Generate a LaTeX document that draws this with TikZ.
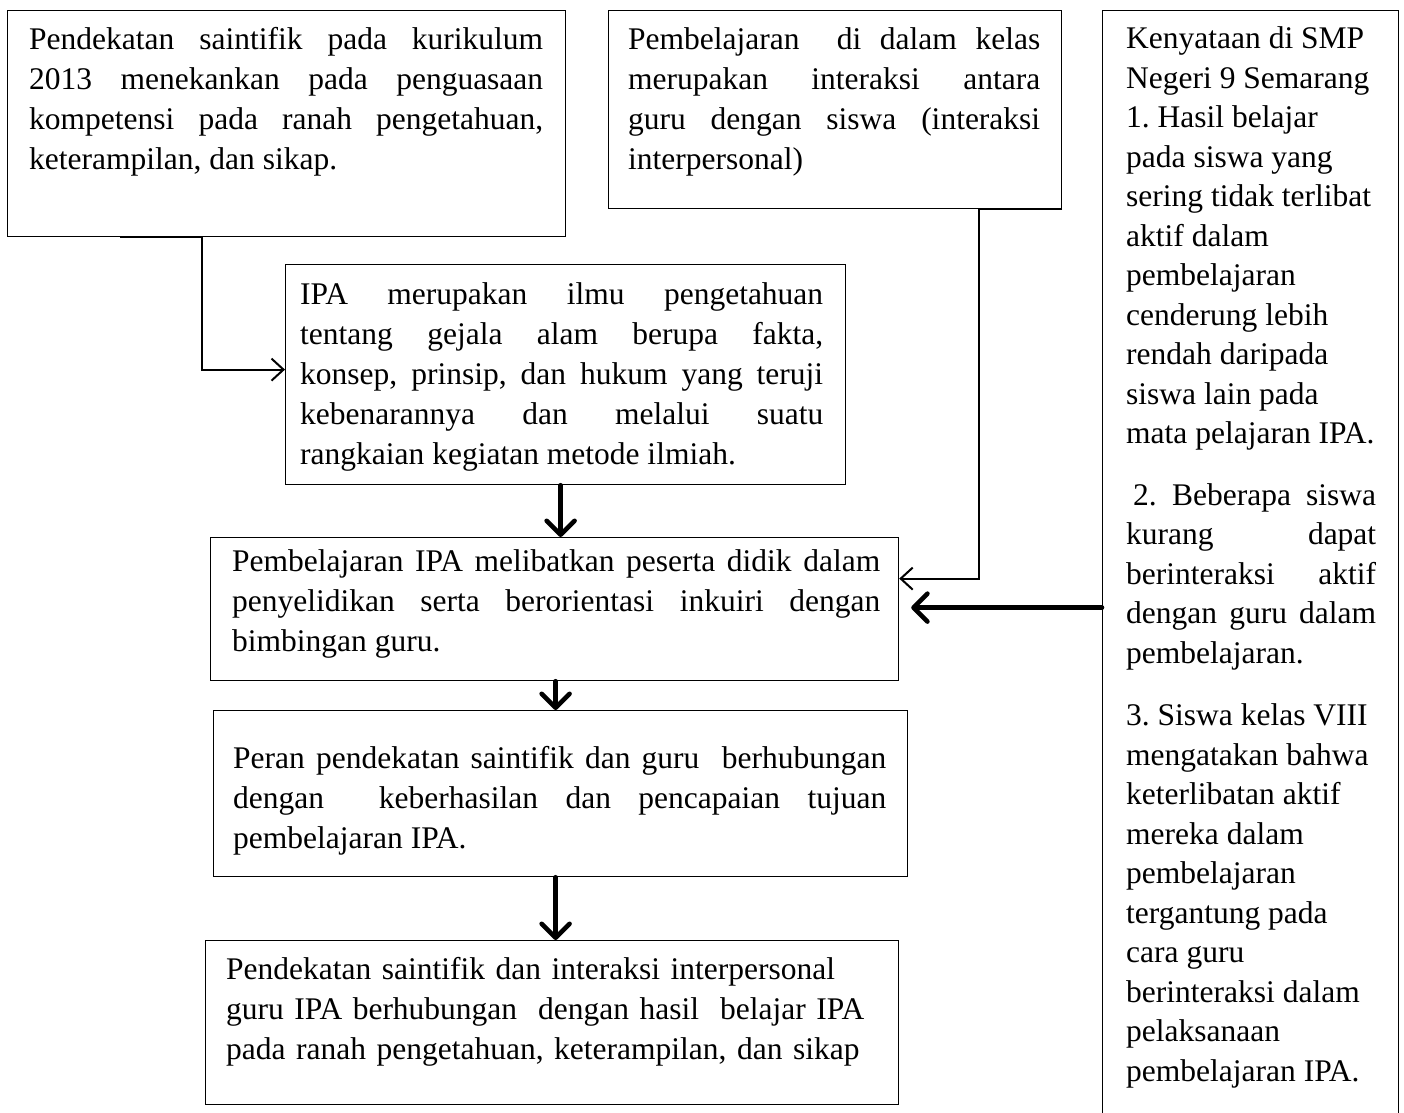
\documentclass[tikz,border=0pt]{standalone}
\usepackage{fontspec}
\setmainfont{Liberation Serif}
\usetikzlibrary{arrows.meta,calc}
\frenchspacing
\begin{document}
\begin{tikzpicture}[x=1pt,y=-1pt,
 box/.style={draw, line width=1.2pt, inner sep=0pt, anchor=north west},
 txt/.style={inner sep=0pt, anchor=north west, align=justify, font=\frenchspacing\fontsize{31.5}{40}\selectfont},
 thinarrow/.style={line width=2pt, -{Straight Barb[length=12pt,width=22pt]}},
 thickarrow/.style={line width=4.5pt, line cap=round, -{Straight Barb[round,length=14pt,width=28pt]}}]
\useasboundingbox (0,0) rectangle (1404,1112);
% boxes
\node[box, minimum width=558pt, minimum height=226pt] (A) at (7,10) {};
\node[box, minimum width=453pt, minimum height=198pt] (B) at (608,10) {};
\node[box, minimum width=296pt, minimum height=1110pt] (C) at (1102,10) {};
\node[box, minimum width=560pt, minimum height=220pt] (D) at (285,264) {};
\node[box, minimum width=688pt, minimum height=143pt] (E) at (210,537) {};
\node[box, minimum width=694pt, minimum height=166pt] (F) at (213,710) {};
\node[box, minimum width=693pt, minimum height=164pt] (G) at (205,940) {};
% texts
\node[txt, text width=514pt] (At) at (29,21) {\strut Pendekatan saintifik pada kurikulum\linebreak 2013 menekankan pada penguasaan\linebreak kompetensi pada ranah pengetahuan,\linebreak keterampilan, dan sikap.};
\node[txt, text width=412pt] (Bt) at (628,21) {\strut Pembelajaran~ di dalam kelas\linebreak merupakan interaksi antara\linebreak guru dengan siswa (interaksi\linebreak interpersonal)};
\node[txt, text width=250pt, font=\frenchspacing\fontsize{31.5}{39.5}\selectfont] (Ct) at (1126,21) {\strut Kenyataan di SMP\\ Negeri 9 Semarang\\ 1. Hasil belajar\\ pada siswa yang\\ sering tidak terlibat\\ aktif dalam\\ pembelajaran\\ cenderung lebih\\ rendah daripada\\ siswa lain pada\\ mata pelajaran IPA.\\[22pt]
\hspace*{7pt}2. Beberapa siswa\linebreak kurang dapat\linebreak berinteraksi aktif\linebreak dengan guru dalam\linebreak pembelajaran.\\[23pt]
3. Siswa kelas VIII\\ mengatakan bahwa\\ keterlibatan aktif\\ mereka dalam\\ pembelajaran\\ tergantung pada\\ cara guru\\ berinteraksi dalam\\ pelaksanaan\\ pembelajaran IPA.};
\node[txt, text width=523pt] (Dt) at (300,276) {\strut IPA merupakan ilmu pengetahuan\linebreak tentang gejala alam berupa fakta,\linebreak konsep, prinsip, dan hukum yang teruji\linebreak kebenarannya dan melalui suatu\linebreak rangkaian kegiatan metode ilmiah.};
\node[txt, text width=648pt] (Et) at (232,543) {\strut Pembelajaran IPA melibatkan peserta didik dalam\linebreak penyelidikan serta berorientasi inkuiri dengan\linebreak bimbingan guru.};
\node[txt, text width=653pt] (Ft) at (233,740) {\strut Peran pendekatan saintifik dan guru~ berhubungan\linebreak dengan~ keberhasilan dan pencapaian tujuan\linebreak pembelajaran IPA.};
\node[txt, text width=660pt, align=left] (Gt) at (226,951) {\strut Pendekatan saintifik dan interaksi interpersonal\\ guru IPA berhubungan~ dengan hasil~ belajar IPA\\ pada ranah pengetahuan, keterampilan, dan sikap};
% connectors
\coordinate (a0) at ($(A.south west)+(113,0)$);
\coordinate (c0) at ([yshift=-42pt]C.west);
\draw[thinarrow] (a0) -- ++(82,0) |- ([yshift=5pt]D.west);
\draw[thinarrow] (B.south east) -- ++(-83,0) |- ([yshift=30.5pt]E.east);
\draw[thickarrow, shorten >=12pt] (c0) -- (E.east |- c0);
\draw[thickarrow] ([xshift=-5pt]D.south) -- ([xshift=-5pt]D.south |- E.north);
\draw[thickarrow] ([xshift=1pt]E.south) -- ([xshift=1pt]E.south |- F.north);
\draw[thickarrow] ([xshift=1pt]E.south |- F.south) -- ([xshift=1pt]E.south |- G.north);
\end{tikzpicture}
\end{document}
